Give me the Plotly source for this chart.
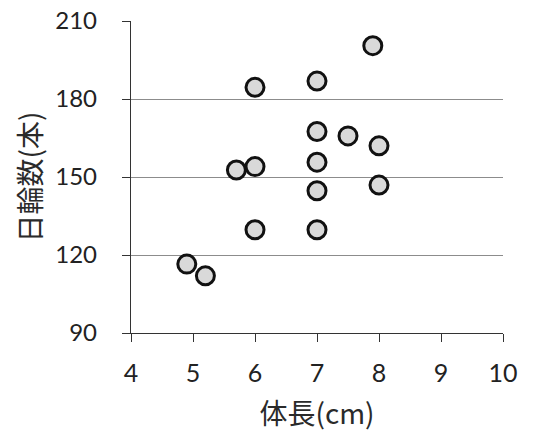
import plotly.graph_objects as go

body_length = [4.9, 5.2, 5.7, 6.0, 6.0, 6.0, 7.0, 7.0, 7.0, 7.0, 7.0, 7.5, 7.9, 8.0, 8.0]
ring_count = [116.5, 112.0, 152.7, 154.0, 184.5, 129.7, 186.9, 167.5, 155.7, 144.7, 129.7, 165.8, 200.5, 162.0, 146.9]

x_ticks = [4, 5, 6, 7, 8, 9, 10]
y_ticks = [90, 120, 150, 180, 210]

fig = go.Figure()
fig.add_trace(go.Scatter(
    x=body_length, y=ring_count, mode="markers",
    marker=dict(size=18, color="#d9d9d9", line=dict(color="#111111", width=3)),
    showlegend=False, cliponaxis=False,
))

x_tick_font = dict(family="Lato, 'Open Sans', sans-serif", size=25, color="#222222")
y_tick_font = dict(family="Lato, 'Open Sans', sans-serif", size=24, color="#222222")
title_font = dict(family="'Noto Sans CJK JP', sans-serif", size=28, color="#2a2a2a")

fig.update_layout(
    width=542, height=432,
    margin=dict(l=131, r=39, t=21, b=99),
    paper_bgcolor="white", plot_bgcolor="white",
    xaxis=dict(
        range=[4, 10], tickvals=x_ticks, ticktext=[str(v) for v in x_ticks],
        showgrid=False, zeroline=False, automargin=False,
        showline=True, linecolor="#333333", linewidth=1.3,
        ticks="outside", ticklen=8, tickwidth=1.3, tickcolor="#333333",
        tickfont=x_tick_font, ticklabelstandoff=10,
        title=dict(text="体長(cm)", font=title_font, standoff=18),
    ),
    yaxis=dict(
        range=[90, 210], tickvals=y_ticks, ticktext=[str(v) for v in y_ticks],
        showgrid=True, gridcolor="#8c8c8c", gridwidth=1,
        zeroline=False, automargin=False,
        showline=True, linecolor="#333333", linewidth=1.3,
        ticks="outside", ticklen=8, tickwidth=1.3, tickcolor="#333333",
        tickfont=y_tick_font, ticklabelstandoff=20,
        title=dict(text="日輪数(本)", font=title_font, standoff=5),
    ),
)

fig.write_html("out.html", config={"displayModeBar": False},
               post_script="document.body.style.margin='0';")
